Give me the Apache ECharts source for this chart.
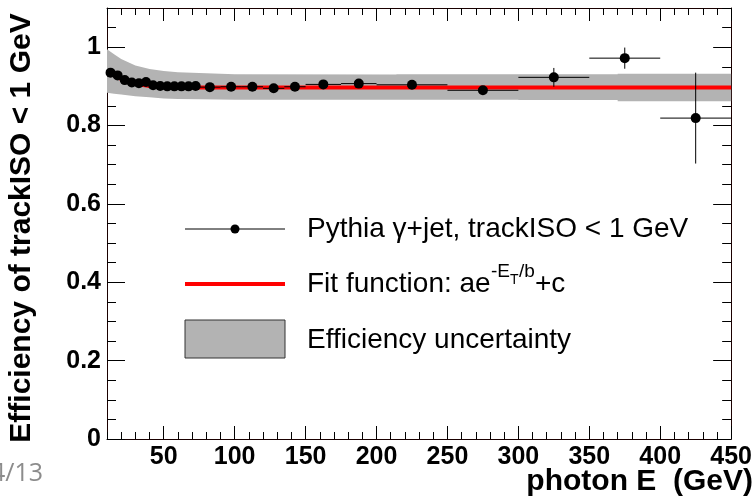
<!DOCTYPE html>
<html>
<head>
<meta charset="utf-8">
<script src="https://cdn.jsdelivr.net/npm/echarts@6/dist/echarts.min.js"></script>
<style>
  html, body { margin: 0; padding: 0; background: #fff; }
  #chart { width: 755px; height: 500px; }
</style>
</head>
<body>
<div id="chart"></div>
<script>
// measured points (bin centres, GeV) and efficiency
const pointX = [12.5, 17.5, 22.5, 27.5, 32.5, 37.5, 42.5, 47.5, 52.5, 57.5, 62.5, 67.5, 72.5,
  82.5, 97.5, 112.5, 127.5, 142.5, 162.5, 187.5, 225, 275, 325, 375, 425];
const pointY = [0.935, 0.928, 0.916, 0.910, 0.908, 0.911, 0.903, 0.901, 0.900, 0.900, 0.900, 0.900, 0.901,
  0.898, 0.899, 0.899, 0.895, 0.899, 0.905, 0.907, 0.904, 0.890, 0.923, 0.972, 0.819];
const xErr = [2.5, 2.5, 2.5, 2.5, 2.5, 2.5, 2.5, 2.5, 2.5, 2.5, 2.5, 2.5, 2.5,
  7.5, 7.5, 7.5, 7.5, 7.5, 12.5, 12.5, 25, 25, 25, 25, 25];
const yErr = [0.004, 0.004, 0.004, 0.004, 0.004, 0.004, 0.004, 0.004, 0.004, 0.004, 0.004, 0.004, 0.004,
  0.004, 0.004, 0.005, 0.005, 0.005, 0.006, 0.006, 0.008, 0.008, 0.024, 0.027, 0.116];

// fit curve
const fitX = [10, 15, 20, 25, 30, 40, 50, 60, 75, 100, 200, 300, 450];
const fitY = [0.940, 0.928, 0.919, 0.912, 0.907, 0.901, 0.899, 0.898, 0.897, 0.897, 0.897, 0.897, 0.897];

// uncertainty band
const bandX = [10, 15, 20, 30, 40, 50, 60, 75, 100, 214, 214, 300, 300, 370, 370, 450];
const bandHi = [0.995, 0.982, 0.970, 0.953, 0.944, 0.939, 0.936, 0.934, 0.931, 0.930, 0.931, 0.931, 0.931, 0.931, 0.932, 0.932];
const bandLo = [0.884, 0.881, 0.879, 0.875, 0.872, 0.869, 0.868, 0.867, 0.866, 0.866, 0.866, 0.866, 0.865, 0.865, 0.862, 0.862];

const xTicks = [50, 100, 150, 200, 250, 300, 350, 400, 450];
const yTicks = [0, 0.2, 0.4, 0.6, 0.8, 1];

const FONT = "'Liberation Sans', Arial, Helvetica, sans-serif";

const chart = echarts.init(document.getElementById('chart'));

const labelStyle = { color: '#000', fontFamily: FONT, fontWeight: 'bold', fontSize: 25 };

function xAxisDef(pos, major) {
  return {
    type: 'value', position: pos, min: 10, max: 450,
    interval: major ? undefined : 10,
    axisLine: { show: major, onZero: false, lineStyle: { color: '#1a0000', width: 1 } },
    axisTick: major
      ? { inside: true, length: 13, customValues: xTicks, lineStyle: { color: '#000' } }
      : { inside: true, length: 7, lineStyle: { color: '#000' } },
    axisLabel: major && pos === 'bottom'
      ? Object.assign({ customValues: xTicks, margin: 6 }, labelStyle)
      : { show: false },
    splitLine: { show: false }
  };
}

function yAxisDef(pos, major) {
  return {
    type: 'value', position: pos, min: 0, max: 1.1,
    interval: major ? undefined : 0.05,
    axisLine: { show: major, onZero: false, lineStyle: { color: '#1a0000', width: 1 } },
    axisTick: major
      ? { inside: true, length: 18, customValues: yTicks, lineStyle: { color: '#000' } }
      : { inside: true, length: 9, lineStyle: { color: '#000' } },
    axisLabel: major && pos === 'left'
      ? Object.assign({ customValues: yTicks, margin: 6, formatter: v => String(v) }, labelStyle)
      : { show: false },
    splitLine: { show: false }
  };
}

const errData = pointX.map((x, i) => [x, pointY[i], xErr[i], yErr[i]]);

const option = {
  animation: false,
  backgroundColor: '#fff',
  grid: { left: 107, right: 22, top: 8, bottom: 61, show: false },
  xAxis: [xAxisDef('bottom', true), xAxisDef('bottom', false), xAxisDef('top', true), xAxisDef('top', false)],
  yAxis: [yAxisDef('left', true), yAxisDef('left', false), yAxisDef('right', true), yAxisDef('right', false)],
  series: [
    {
      type: 'custom',
      name: 'band',
      z: 1,
      silent: true,
      data: [[bandX[0], bandHi[0]]],
      renderItem: function (params, api) {
        const pts = [];
        for (let i = 0; i < bandX.length; i++) pts.push(api.coord([bandX[i], bandHi[i]]));
        for (let i = bandX.length - 1; i >= 0; i--) pts.push(api.coord([bandX[i], bandLo[i]]));
        return { type: 'polygon', shape: { points: pts }, style: { fill: '#b3b3b3', stroke: null } };
      }
    },
    {
      type: 'line',
      name: 'fit',
      z: 2,
      data: fitX.map((x, i) => [x, fitY[i]]),
      showSymbol: false,
      smooth: 0.3,
      lineStyle: { color: '#ff0000', width: 4 }
    },
    {
      type: 'custom',
      name: 'errors',
      z: 3,
      data: errData,
      encode: { x: 0, y: 1 },
      renderItem: function (params, api) {
        const x = api.value(0), y = api.value(1), xe = api.value(2), ye = api.value(3);
        const l = api.coord([x - xe, y]), r = api.coord([x + xe, y]);
        const t = api.coord([x, y + ye]), b = api.coord([x, y - ye]);
        const st = { stroke: '#000', lineWidth: 1 };
        return {
          type: 'group',
          children: [
            { type: 'line', shape: { x1: l[0], y1: l[1], x2: r[0], y2: r[1] }, style: st },
            { type: 'line', shape: { x1: t[0], y1: t[1], x2: b[0], y2: b[1] }, style: st }
          ]
        };
      }
    },
    {
      type: 'scatter',
      name: 'points',
      z: 4,
      data: pointX.map((x, i) => [x, pointY[i]]),
      symbol: 'circle',
      symbolSize: 10,
      itemStyle: { color: '#000', opacity: 1 }
    }
  ],
  graphic: [
    // y axis title
    {
      type: 'text', x: 22, y: 228, rotation: Math.PI / 2,
      style: { text: 'Efficiency of trackISO < 1 GeV', fontFamily: FONT, fontWeight: 'bold', fontSize: 30,
        fill: '#000', align: 'center', verticalAlign: 'middle' }
    },
    // x axis title
    {
      type: 'text', x: 753, y: 482,
      style: { text: 'photon E  (GeV)', fontFamily: FONT, fontWeight: 'bold', fontSize: 30,
        fill: '#000', align: 'right', verticalAlign: 'middle' }
    },
    // slide page number
    {
      type: 'text', x: -9, y: 474,
      style: { text: '4/13', fontFamily: "'Open Sans', sans-serif", fontSize: 25,
        fill: '#8c8c8c', align: 'left', verticalAlign: 'middle' }
    },
    // legend: points
    { type: 'line', shape: { x1: 185, y1: 229, x2: 285, y2: 229 }, style: { stroke: '#000', lineWidth: 1 } },
    { type: 'circle', shape: { cx: 235, cy: 229, r: 4.5 }, style: { fill: '#000' } },
    {
      type: 'text', x: 307, y: 229,
      style: { text: 'Pythia γ+jet, trackISO < 1 GeV', fontFamily: FONT, fontSize: 28,
        fill: '#000', verticalAlign: 'middle' }
    },
    // legend: fit
    { type: 'rect', shape: { x: 185, y: 282, width: 100, height: 4 }, style: { fill: '#ff0000' } },
    {
      type: 'text', x: 307, y: 284,
      style: { text: 'Fit function: ae', fontFamily: FONT, fontSize: 28, fill: '#000', verticalAlign: 'middle' }
    },
    { type: 'text', x: 491, y: 272, style: { text: '-E', fontFamily: FONT, fontSize: 19, fill: '#000', verticalAlign: 'middle' } },
    { type: 'text', x: 510, y: 280, style: { text: 'T', fontFamily: FONT, fontSize: 14, fill: '#000', verticalAlign: 'middle' } },
    { type: 'text', x: 519, y: 272, style: { text: '/b', fontFamily: FONT, fontSize: 19, fill: '#000', verticalAlign: 'middle' } },
    { type: 'text', x: 535, y: 284, style: { text: '+c', fontFamily: FONT, fontSize: 28, fill: '#000', verticalAlign: 'middle' } },
    // legend: band
    { type: 'rect', shape: { x: 185, y: 320, width: 100, height: 38 }, style: { fill: '#b3b3b3', stroke: '#333', lineWidth: 1 } },
    {
      type: 'text', x: 307, y: 340,
      style: { text: 'Efficiency uncertainty', fontFamily: FONT, fontSize: 28, fill: '#000', verticalAlign: 'middle' }
    }
  ]
};

chart.setOption(option);
</script>
</body>
</html>
